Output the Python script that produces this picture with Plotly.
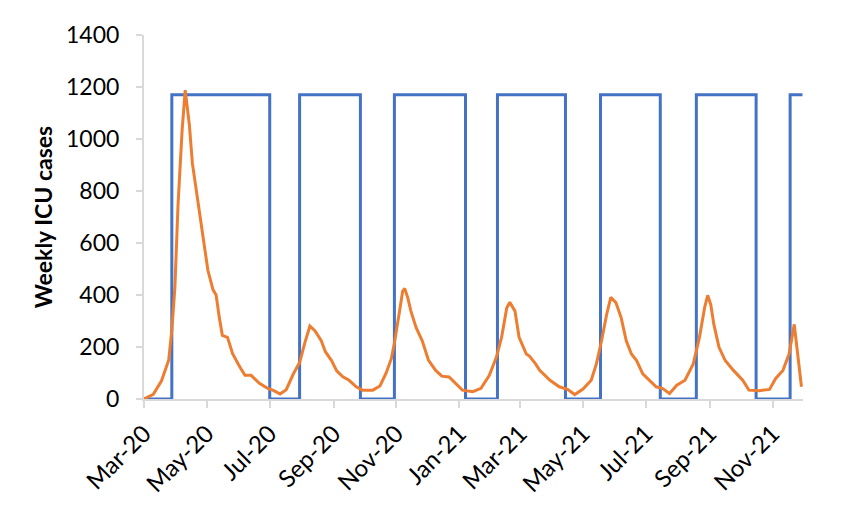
import plotly.graph_objects as go

# Blue step series (on/off periods)
blue_dates = ["2020-03-01", "2020-03-28", "2020-07-01", "2020-07-30", "2020-09-27",
              "2020-10-30", "2021-01-07", "2021-02-07", "2021-04-14", "2021-05-18",
              "2021-07-15", "2021-08-19", "2021-10-16", "2021-11-18", "2021-11-30"]
blue_values = [0, 1170, 0, 1170, 0, 1170, 0, 1170, 0, 1170, 0, 1170, 0, 1170, 1170]

# Orange series: weekly ICU cases
icu_dates = [
    "2020-03-01", "2020-03-10", "2020-03-18", "2020-03-25", "2020-03-28", "2020-03-31",
    "2020-04-03", "2020-04-07", "2020-04-10", "2020-04-14", "2020-04-17", "2020-04-22",
    "2020-04-27", "2020-05-02", "2020-05-07", "2020-05-10", "2020-05-13", "2020-05-16",
    "2020-05-21", "2020-05-26", "2020-06-02", "2020-06-07", "2020-06-13", "2020-06-21",
    "2020-06-29", "2020-07-04", "2020-07-11", "2020-07-17", "2020-07-24", "2020-07-30",
    "2020-08-04", "2020-08-09", "2020-08-14", "2020-08-20", "2020-08-24", "2020-08-30",
    "2020-09-04", "2020-09-10", "2020-09-16", "2020-09-23", "2020-09-29", "2020-10-09",
    "2020-10-16", "2020-10-22", "2020-10-27", "2020-10-30", "2020-11-04", "2020-11-07",
    "2020-11-09", "2020-11-12", "2020-11-15", "2020-11-20", "2020-11-26", "2020-12-02",
    "2020-12-09", "2020-12-15", "2020-12-22", "2020-12-29", "2021-01-04", "2021-01-14",
    "2021-01-22", "2021-01-30", "2021-02-06", "2021-02-11", "2021-02-16", "2021-02-19",
    "2021-02-24", "2021-02-28", "2021-03-07", "2021-03-10", "2021-03-16", "2021-03-20",
    "2021-03-30", "2021-04-08", "2021-04-16", "2021-04-23", "2021-05-01", "2021-05-09",
    "2021-05-14", "2021-05-19", "2021-05-24", "2021-05-28", "2021-06-02", "2021-06-07",
    "2021-06-12", "2021-06-17", "2021-06-22", "2021-06-28", "2021-07-04", "2021-07-11",
    "2021-07-17", "2021-07-24", "2021-07-31", "2021-08-08", "2021-08-16", "2021-08-22",
    "2021-08-27", "2021-08-30", "2021-09-02", "2021-09-05", "2021-09-10", "2021-09-16",
    "2021-09-24", "2021-10-03", "2021-10-09", "2021-10-19", "2021-10-29", "2021-11-04",
    "2021-11-11", "2021-11-17", "2021-11-22", "2021-11-25", "2021-11-29"]
icu_values = [
    0, 18, 70, 150, 265, 430,
    745, 1035, 1188, 1055, 905, 765,
    640, 495, 420, 400, 315, 245,
    237, 174, 123, 91, 91, 60,
    41, 34, 19, 36, 97, 140,
    215, 281, 262, 224, 182, 148,
    108, 85, 72, 47, 34, 34,
    50, 100, 155, 215, 338, 414,
    425, 389, 338, 275, 224, 150,
    110, 88, 85, 58, 34, 28,
    41, 90, 161, 237, 350, 372,
    338, 237, 173, 165, 135, 110,
    72, 47, 37, 17, 38, 72,
    135, 224, 326, 391, 370, 313,
    224, 173, 148, 97, 72, 47,
    41, 21, 53, 72, 135, 237,
    351, 399, 363, 287, 199, 148,
    110, 72, 34, 32, 37, 79,
    110, 173, 287, 186, 47]

x_range = ["2020-03-01", "2021-11-30 12:00"]
y_ticks = [0, 200, 400, 600, 800, 1000, 1200, 1400]

fig = go.Figure()
fig.add_trace(go.Scatter(x=blue_dates, y=blue_values, mode="lines",
                         line=dict(color="#4472C4", width=3, shape="hv"),
                         showlegend=False, hoverinfo="skip"))
fig.add_trace(go.Scatter(x=icu_dates, y=icu_values, mode="lines",
                         line=dict(color="#ED7D31", width=3),
                         showlegend=False))

font_family = "Lato, 'Open Sans', sans-serif"
fig.update_layout(
    width=850, height=510,
    margin=dict(l=136, r=55, t=22, b=119),
    paper_bgcolor="white", plot_bgcolor="white",
    font=dict(family=font_family, size=23, color="#000000"),
    xaxis=dict(
        type="date", range=x_range, tick0="2020-03-01", dtick="M2",
        tickformat="%b-%y", tickangle=-45, showgrid=False,
        showline=True, linecolor="#D9D9D9", linewidth=2,
        ticks="outside", ticklen=7, tickcolor="#D9D9D9", tickwidth=2,
        tickfont=dict(size=24), zeroline=False,
        ticklabelstandoff=2, automargin=False,
    ),
    yaxis=dict(
        range=[0, 1400], tickvals=y_ticks, showgrid=False,
        showline=True, linecolor="#D9D9D9", linewidth=2,
        ticks="outside", ticklen=6, tickcolor="#D9D9D9", tickwidth=2,
        tickfont=dict(size=23), zeroline=False,
        title=dict(text="<b>Weekly ICU cases</b>", font=dict(size=23), standoff=7),
        ticklabelstandoff=12,
    ),
)

fig.write_html("out.html")
